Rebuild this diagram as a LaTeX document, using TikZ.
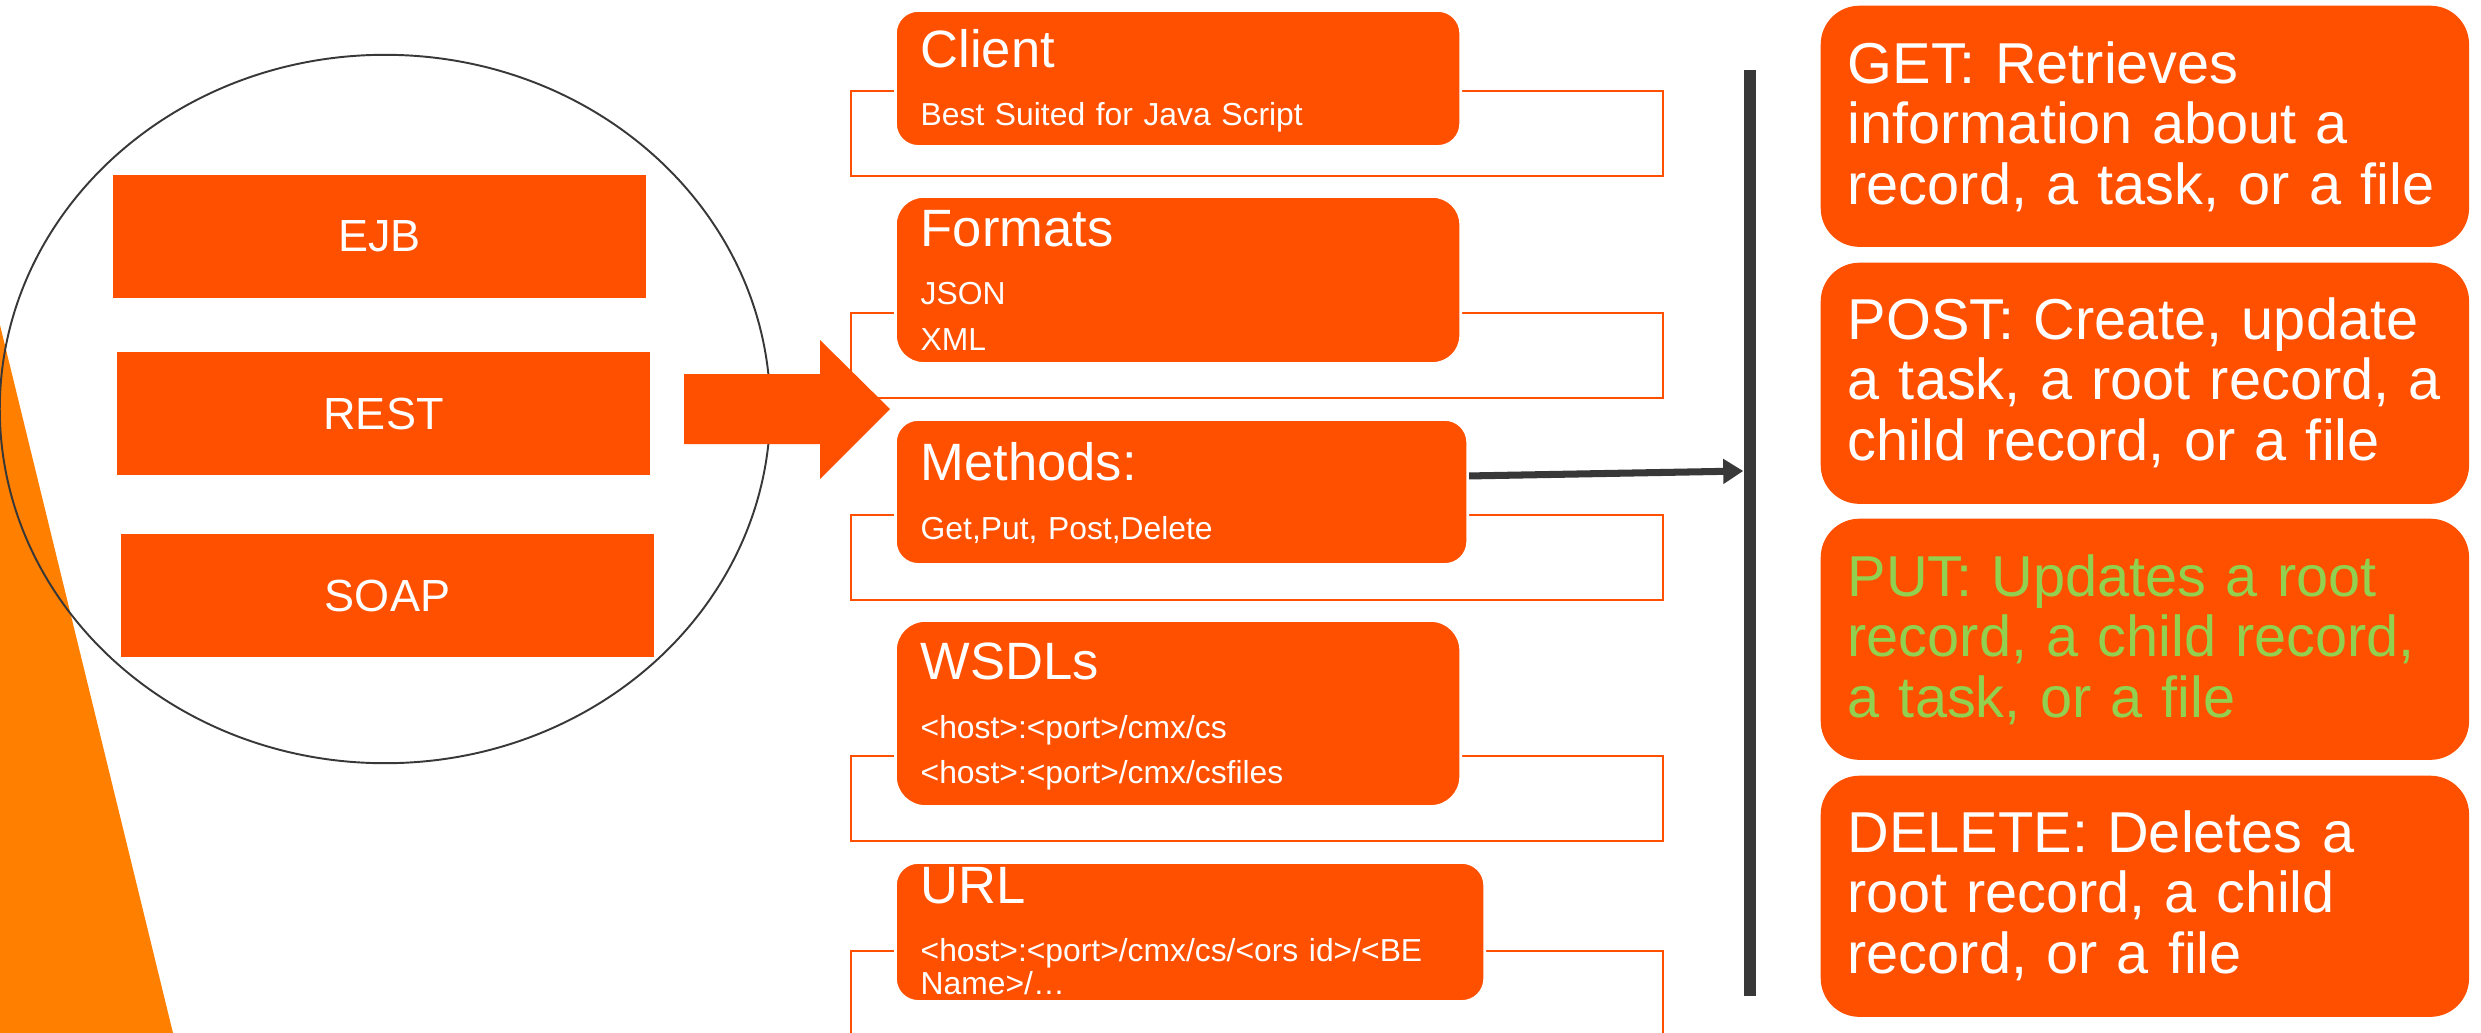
\documentclass[tikz,border=0pt]{standalone}
\usepackage{fontspec}
\setmainfont{Liberation Sans}
\usetikzlibrary{calc}
\usetikzlibrary{arrows.meta}

\definecolor{restorange}{HTML}{FF5000}
\definecolor{edgeorange}{HTML}{FF7F00}
\definecolor{bargrey}{HTML}{383838}
\definecolor{putgreen}{HTML}{92D050}

\tikzset{
    apibox/.style={fill=restorange, text=white, inner sep=0pt,
                   minimum width=5.33cm, minimum height=1.23cm,
                   font=\fontsize{12.8}{15}\selectfont},
    itembox/.style={fill=restorange, draw=white, line width=0.8pt,
                    rounded corners=6.5pt, inner sep=0pt, anchor=north west},
    frame/.style={draw=restorange, line width=0.8pt},
    title/.style={anchor=base west, inner sep=0pt, text=white,
                  font=\fontsize{14.94}{17}\selectfont},
    detail/.style={anchor=base west, inner sep=0pt, text=white,
                   text width=5.4cm, align=left},
    verbbox/.style={fill=restorange, rounded corners=11pt, inner sep=0pt,
                    minimum width=6.48cm, minimum height=2.41cm, anchor=north west},
    verbtext/.style={anchor=base west, inner sep=0pt, text=white,
                     text width=6.3cm, align=left,
                     font=\fontsize{16.4}{17.21}\selectfont},
}

\begin{document}
\begin{tikzpicture}[
        x=0.01cm, y=-0.01cm,
        >={Triangle[length=5.7pt,width=6.8pt]},
    ]
    \useasboundingbox (0,0) rectangle (2481,1033);

    % left side: triangle, ellipse and the three api styles
    \fill[edgeorange] (0,325) -- (173,1033) -- (0,1033) -- cycle;
    \draw[bargrey, line width=0.55pt] (385,409) ellipse [x radius=3.85cm, y radius=3.54cm];

    \node[apibox] (ejb)  at (379.5,236.5) {EJB};
    \node[apibox] (rest) at (383.5,413.5) {REST};
    \node[apibox] (soap) at (387.5,595.5) {SOAP};

    % frames behind the middle column
    \draw[frame] (851,91)  rectangle (1663,176);
    \draw[frame] (851,313) rectangle (1663,398);
    \draw[frame] (851,515) rectangle (1663,600);
    \draw[frame] (851,756) rectangle (1663,841);
    \draw[frame] (851,951) rectangle (1663,1040);

    \fill[restorange] (684,374) -- (820,374) -- (820,340) -- (890,409)
        -- (820,479) -- (820,444) -- (684,444) -- cycle;

    % middle column
    \node[itembox, minimum width=5.65cm, minimum height=1.36cm] (client) at (894,9) {};
    \node[title] (clienttitle) at ($(client.north west)+(26,58)$) {Client};
    \node[detail, font=\fontsize{9.05}{13}\selectfont] (clienttext)
        at ($(client.north west)+(26,116)$) {Best Suited for Java Script};

    \node[itembox, rounded corners=8pt, minimum width=5.65cm, minimum height=1.67cm] (formats) at (894,195) {};
    \node[title] (formatstitle) at ($(formats.north west)+(26,51)$) {Formats};
    \node[detail, font=\fontsize{9.05}{13.1}\selectfont] (formatstext)
        at ($(formats.north west)+(26,109)$) {JSON\\XML};

    \node[itembox, minimum width=5.72cm, minimum height=1.45cm] (methods) at (894,418) {};
    \node[title] (methodstitle) at ($(methods.north west)+(26,62)$) {Methods:};
    \node[detail, font=\fontsize{9.05}{13}\selectfont] (methodstext)
        at ($(methods.north west)+(26,121)$) {Get,Put, Post,Delete};

    \node[itembox, rounded corners=8.5pt, minimum width=5.65cm, minimum height=1.86cm] (wsdl) at (894,619) {};
    \node[title] (wsdltitle) at ($(wsdl.north west)+(26,60)$) {WSDLs};
    \node[detail, font=\fontsize{9.05}{12.8}\selectfont] (wsdltext)
        at ($(wsdl.north west)+(26,119)$) {<host>:<port>/cmx/cs\\<host>:<port>/cmx/csfiles};

    \node[itembox, minimum width=5.89cm, minimum height=1.39cm] (url) at (894,861) {};
    \node[title] (urltitle) at ($(url.north west)+(26,42)$) {URL};
    \node[detail, font=\fontsize{9.05}{9.4}\selectfont] (urltext)
        at ($(url.north west)+(26,100)$) {<host>:<port>/cmx/cs/<ors id>/<BE\\Name>/…};

    % bar and the methods
    \node[fill=bargrey, inner sep=0pt, minimum width=0.12cm, minimum height=9.26cm] (bar) at (1750,533) {};
    \draw[->, bargrey, line width=2pt] ($(methods.east)+(0,-16)$) -- ($(bar.west)+(0,-62)$);

    \node[verbbox] (get) at (1820,5) {};
    \node[verbtext] (gettext) at ($(get.north west)+(27,78)$)
        {GET: Retrieves\\information about a\\record, a task, or a file};

    \node[verbbox] (post) at (1820,262) {};
    \node[verbtext] (posttext) at ($(post.north west)+(27,77)$)
        {POST: Create, update\\a task, a root record, a\\child record, or a file};

    \node[verbbox] (put) at (1820,518) {};
    \node[verbtext, text=putgreen] (puttext) at ($(put.north west)+(27,78)$)
        {PUT: Updates a root\\record, a child record,\\a task, or a file};

    \node[verbbox] (delete) at (1820,775) {};
    \node[verbtext] (deletetext) at ($(delete.north west)+(27,77)$)
        {DELETE: Deletes a\\root record, a child\\record, or a file};
\end{tikzpicture}
\end{document}
